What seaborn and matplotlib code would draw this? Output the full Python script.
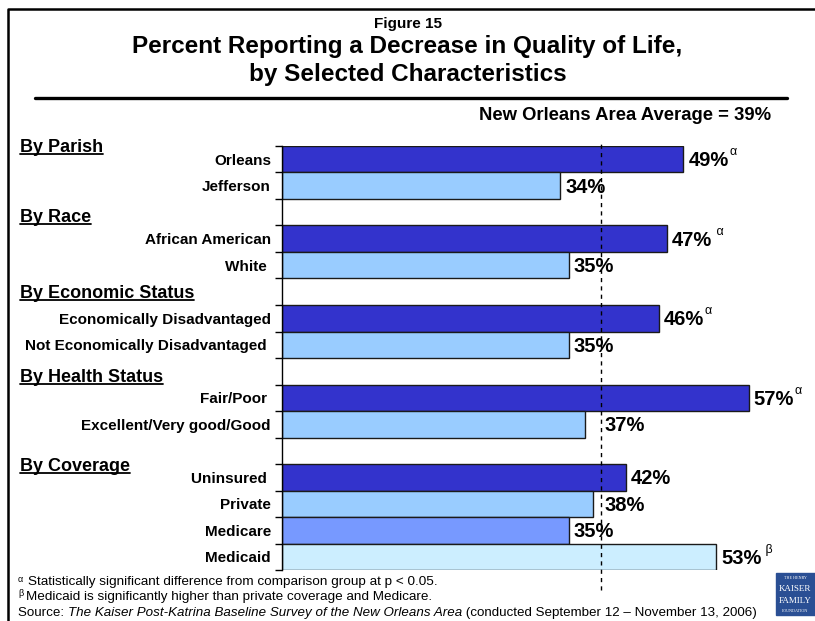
import numpy as np
import pandas as pd
import seaborn as sns
import matplotlib.pyplot as plt
from matplotlib import transforms
from matplotlib.lines import Line2D
from matplotlib.patches import Rectangle

# chart data
groups = ["By Parish", "By Race", "By Economic Status", "By Health Status", "By Coverage"]
labels = ["Orleans", "Jefferson", "African American", "White ",
          "Economically Disadvantaged", "Not Economically Disadvantaged ",
          "Fair/Poor ", "Excellent/Very good/Good",
          "Uninsured ", "Private", "Medicare", "Medicaid"]
group_idx = [0, 0, 1, 1, 2, 2, 3, 3, 4, 4, 4, 4]
values = [49, 34, 47, 35, 46, 35, 57, 37, 42, 38, 35, 53]
marks = ["α", "", " α", "", "α", "", "α", "", "", "", "", " β"]
area_average = 39

shade = ["dark", "light", "dark", "light", "dark", "light", "dark", "light",
         "dark", "light", "mid", "pale"]
shade_colors = {"dark": "#3333CC", "light": "#99CCFF", "mid": "#7799FF", "pale": "#CCEEFF"}

df = pd.DataFrame({"label": labels, "value": values, "group": group_idx})

# slot order with an empty slot before each group except the first
order = []
for g in range(len(groups)):
    if g > 0:
        order.append(f"__gap{g}")
    order += [l for l, gi in zip(labels, group_idx) if gi == g]

palette = {l: shade_colors[s] for l, s in zip(labels, shade)}

sns.set_theme(style="white")
plt.rcParams["font.family"] = ["Liberation Sans", "DejaVu Sans"]
plt.rcParams["text.color"] = "black"
plt.rcParams["ytick.color"] = "black"

W, H = 815, 621
fig = plt.figure(figsize=(W / 100, H / 100), dpi=100)
ax = fig.add_axes([282 / W, 1 - 570 / H, 62 * 8.19 / W, 424 / H])

sns.barplot(data=df, y="label", x="value", order=order, hue="label", palette=palette,
            legend=False, width=1.0, saturation=1, edgecolor="#1a1a1a", linewidth=1,
            ax=ax, orient="h")

ax.set_xlim(0, 62)
ax.set_ylim(len(order) - 0.5, -0.5)
ax.set_xlabel("")
ax.set_ylabel("")
ax.set_xticks([])
ax.set_yticks(range(len(order)))
ax.set_yticklabels(["" if o.startswith("__gap") else o for o in order],
                   fontsize=11, fontweight="bold", color="black")
ax.set_yticks(np.arange(-0.5, len(order), 1), minor=True)
ax.tick_params(axis="y", which="major", length=0, pad=8)
ax.tick_params(axis="y", which="minor", length=5, width=1, color="black", left=True)
for s in ["top", "right", "bottom"]:
    ax.spines[s].set_visible(False)
ax.spines["left"].set_color("black")
ax.spines["left"].set_linewidth(1)

# average reference line
ax.axvline(area_average, ymin=-0.047, ymax=1.014, color="black", lw=1,
           ls=(0, (3, 3)), clip_on=False, zorder=5)

# value labels
val_texts = []
for lab, v in zip(labels, values):
    y = order.index(lab)
    x = v + 5 / 8.19
    if 0 < area_average - x < 3:
        x = area_average + 0.4
    t = ax.text(x, y + 0.06, f"{v}%", fontsize=14.5, fontweight="bold", va="center",
                ha="left", color="black")
    val_texts.append(t)

# group headers
hdr_tr = transforms.blended_transform_factory(fig.transFigure, ax.transData)
header_y = [-0.45, 2.2, 5.05, 8.25, 11.6]
hdr_texts = []
for g, yy in zip(groups, header_y):
    hdr_texts.append(fig.text(20 / W, yy, g, transform=hdr_tr, fontsize=13,
                              fontweight="bold", va="center", ha="left"))

# titles
fig.text(0.5, 1 - 24 / H, "Figure 15", ha="center", va="center", fontsize=11,
         fontweight="bold")
fig.text(0.5, 1 - 46 / H, "Percent Reporting a Decrease in Quality of Life,", ha="center",
         va="center", fontsize=17.5, fontweight="bold")
fig.text(0.5, 1 - 75 / H, "by Selected Characteristics", ha="center",
         va="center", fontsize=17.5, fontweight="bold")
fig.add_artist(Line2D([35 / W, 787 / W], [1 - 98 / H, 1 - 98 / H], color="black", lw=2.4))
fig.text(771 / W, 1 - 116 / H, f"New Orleans Area Average = {area_average}%", ha="right",
         va="center", fontsize=13.3, fontweight="bold")

# footnotes
fig.text(18 / W, 1 - 579 / H, "α", fontsize=6.5, va="center")
fig.text(28 / W, 1 - 582 / H, "Statistically significant difference from comparison group at p < 0.05.",
         fontsize=9.7, va="center")
fig.text(18 / W, 1 - 594 / H, "β", fontsize=6.5, va="center")
fig.text(26 / W, 1 - 597 / H, "Medicaid is significantly higher than private coverage and Medicare.",
         fontsize=9.7, va="center")

# slide frame
fig.add_artist(Line2D([8 / W, 8 / W, 1.05], [-0.1, 1 - 9 / H, 1 - 9 / H],
                      color="black", lw=1.8))

# logo
fig.add_artist(Rectangle((776 / W, 1 - 615 / H), 50 / W, 42 / H, color="#2a4f94"))
fig.text(795 / W, 1 - 578 / H, "THE HENRY", fontsize=3, color="white",
         family="Liberation Serif", ha="center", va="center")
fig.text(795 / W, 1 - 589 / H, "KAISER", fontsize=6.5, color="white",
         family="Liberation Serif", ha="center", va="center")
fig.text(795 / W, 1 - 601 / H, "FAMILY", fontsize=6.5, color="white",
         family="Liberation Serif", ha="center", va="center")
fig.text(795 / W, 1 - 611 / H, "FOUNDATION", fontsize=3, color="white",
         family="Liberation Serif", ha="center", va="center")

fig.canvas.draw()
r = fig.canvas.get_renderer()

# superscript marks
for t, m in zip(val_texts, marks):
    if m:
        bb = t.get_window_extent(r)
        fig.text((bb.x1 + 0.5) / W, (bb.y1 - 1) / H, m, fontsize=9, va="center", ha="left")

# underline headers
for t in hdr_texts:
    bb = t.get_window_extent(r)
    yb = bb.y0 + 2
    fig.add_artist(Line2D([bb.x0 / W, bb.x1 / W], [yb / H, yb / H], color="black", lw=1.3))

# source line with italic title
parts = [("Source: ", "normal"), ("The Kaiser Post-Katrina Baseline Survey of the New Orleans Area", "italic"),
         (" (conducted September 12 – November 13, 2006)", "normal")]
x = 18
for s, st in parts:
    t = fig.text(x / W, 1 - 613 / H, s, fontsize=9.6, style=st, va="center")
    fig.canvas.draw()
    x = t.get_window_extent(r).x1

fig.savefig("out.png", dpi=100)
